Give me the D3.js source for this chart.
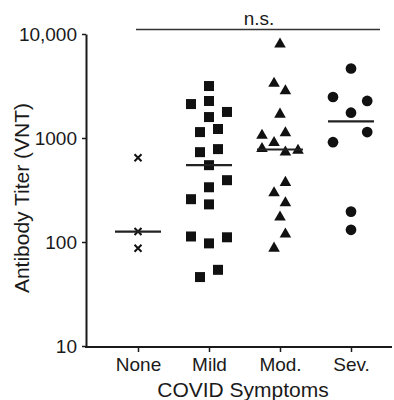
<!DOCTYPE html>
<html>
<head>
<meta charset="utf-8">
<script src="https://cdn.jsdelivr.net/npm/d3@7"></script>
<style>
  body { margin: 0; background: #fff; }
  svg { display: block; font-family: "Liberation Sans", Arial, sans-serif; }
</style>
</head>
<body>
<svg id="canvas" width="394" height="400"></svg>
<script>
'use strict';

/* categories along the x axis, with the marker used for each */
const categories = ['None', 'Mild', 'Mod.', 'Sev.'];
const shapes = ['times', 'square', 'triangle', 'circle'];

/* antibody titers (VNT), one list per group */
const noneValues = [646, 126, 87];
const mildValues = [3160, 2120, 2270, 1780, 1590, 1140, 1220, 731, 782, 548,
                    393, 336, 258, 230, 113, 111, 97, 54, 46];
const modValues = [8000, 3340, 2830, 1690, 1060, 1120, 900, 790, 730, 760,
                   373, 297, 238, 173, 119, 87];
const sevValues = [4660, 2480, 2270, 1750, 1140, 912, 196, 131];

/* horizontal spread of each point inside its column (-1 .. 1) */
const noneJitter = [0, 0, 0];
const mildJitter = [0, -1, 0, 1, 0, -0.5, 0.5, -0.5, 0.5, 0, 1, 0, -1, 0, -1, 1, 0, 0.5, -0.5];
const modJitter = [0, -0.33, 0.3, 0, -1, 0.3, -0.33, -1, 0.3, 1, 0.3, -0.33, 0.3, 0, 0.3, -0.33];
const sevJitter = [0, -1, 0.9, 0, 0.9, -1, 0, 0];

/* y axis ticks */
const yTicks = [10, 100, 1000, 10000];
const yTickLabels = ['10', '100', '1000', '10,000'];

const groups = [
  {key: categories[0], shape: shapes[0], values: noneValues, jitter: noneJitter},
  {key: categories[1], shape: shapes[1], values: mildValues, jitter: mildJitter},
  {key: categories[2], shape: shapes[2], values: modValues, jitter: modJitter},
  {key: categories[3], shape: shapes[3], values: sevValues, jitter: sevJitter}
];

const margin = {top: 34, right: 2, bottom: 54, left: 86};
const width = 394, height = 400;
const ink = '#1a1a1a';

const svg = d3.select('svg#canvas');

/* scales */
const y = d3.scaleLog()
  .domain([10, 10000])
  .range([height - margin.bottom, margin.top]);
const x = d3.scalePoint()
  .domain(categories)
  .range([138, 351]);
const jitter = d3.scaleLinear().domain([-1, 1]).range([-18, 18]);

/* y axis */
const yAxis = svg.append('g')
  .attr('transform', 'translate(' + margin.left + ',0)')
  .call(d3.axisLeft(y)
    .tickValues(yTicks)
    .tickFormat((d, i) => yTickLabels[i])
    .tickSizeInner(4)
    .tickSizeOuter(0)
    .tickPadding(5));
yAxis.select('.domain').attr('stroke', ink).attr('stroke-width', 2);
yAxis.selectAll('.tick line').attr('stroke', ink).attr('stroke-width', 1.5);
yAxis.selectAll('.tick text')
  .attr('fill', ink)
  .style('font-size', '19px')
  .style('font-family', '"Liberation Sans", Arial, sans-serif');

/* x axis: ticks from the point scale, base line across the whole plot */
const xAxis = svg.append('g')
  .attr('transform', 'translate(0,' + (height - margin.bottom + 1) + ')')
  .call(d3.axisBottom(x).tickSizeInner(5).tickSizeOuter(0).tickPadding(5));
xAxis.select('.domain').remove();
xAxis.selectAll('.tick line').attr('stroke', ink).attr('stroke-width', 1.5);
xAxis.selectAll('.tick text')
  .attr('fill', ink)
  .attr('dy', '0.75em')
  .style('font-size', '19px')
  .style('font-family', '"Liberation Sans", Arial, sans-serif');
xAxis.append('line')
  .attr('x1', margin.left - 1)
  .attr('x2', width - margin.right)
  .attr('stroke', ink)
  .attr('stroke-width', 2);

/* axis titles */
svg.append('text')
  .attr('x', 243)
  .attr('y', 397)
  .attr('text-anchor', 'middle')
  .attr('fill', ink)
  .style('font-size', '21px')
  .text('COVID Symptoms');
svg.append('text')
  .attr('transform', 'translate(29,' + 198 + ') rotate(-90)')
  .attr('text-anchor', 'middle')
  .attr('fill', ink)
  .style('font-size', '21px')
  .text('Antibody Titer (VNT)');

/* significance bar */
svg.append('line')
  .attr('x1', 136).attr('x2', 380)
  .attr('y1', 29.5).attr('y2', 29.5)
  .attr('stroke', '#333')
  .attr('stroke-width', 1.3);
svg.append('text')
  .attr('x', 259)
  .attr('y', 25)
  .attr('text-anchor', 'middle')
  .attr('fill', ink)
  .style('font-size', '19px')
  .text('n.s.');

/* marker definitions */
const symbols = {
  square: d3.symbol(d3.symbolSquare, 100)(),
  triangle: d3.symbol(d3.symbolTriangle, 58)(),
  circle: d3.symbol(d3.symbolCircle, 90)(),
  times: 'M-3.5,-3.5L3.5,3.5M-3.5,3.5L3.5,-3.5'
};

/* points */
groups.forEach(g => {
  const col = svg.append('g').attr('class', 'group');
  col.selectAll('path')
    .data(g.values.map((v, i) => ({value: v, off: g.jitter[i]})))
    .enter().append('path')
    .attr('transform', d => 'translate(' + (x(g.key) + jitter(d.off)) + ',' + y(d.value) + ')')
    .attr('d', symbols[g.shape])
    .attr('fill', g.shape === 'times' ? 'none' : '#111')
    .attr('stroke', g.shape === 'times' ? '#111' : 'none')
    .attr('stroke-width', 2);

  /* median line */
  const med = d3.median(g.values);
  col.append('line')
    .attr('x1', x(g.key) - 23)
    .attr('x2', x(g.key) + 23)
    .attr('y1', y(med)).attr('y2', y(med))
    .attr('stroke', '#222')
    .attr('stroke-width', 2.2);
});
</script>
</body>
</html>
